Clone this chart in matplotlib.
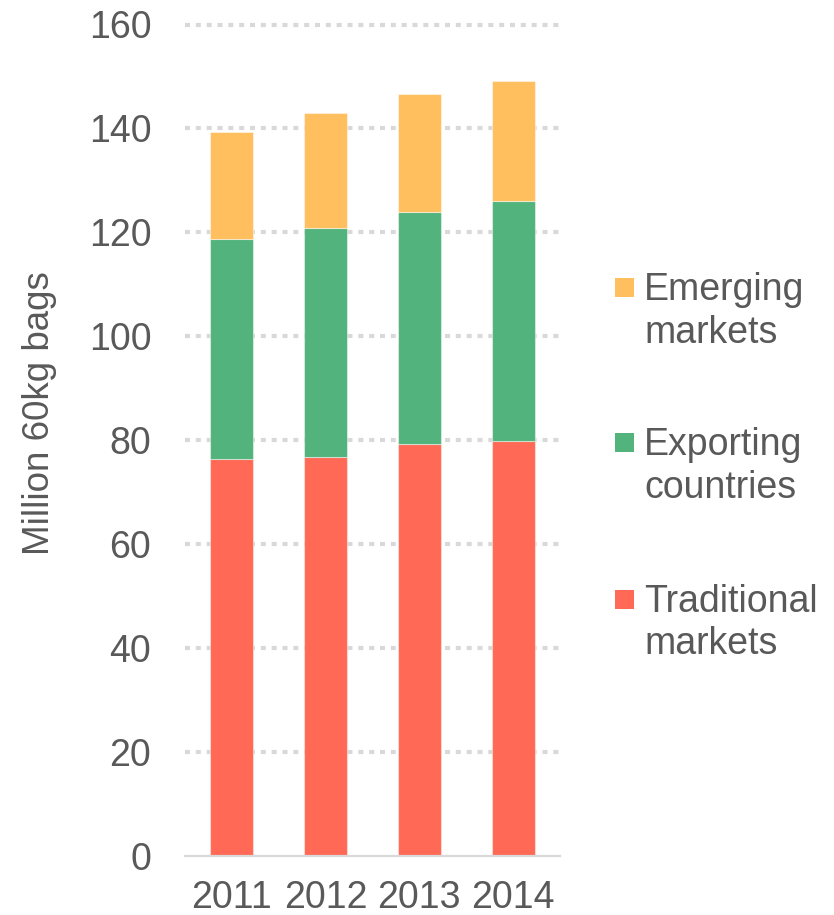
import matplotlib
matplotlib.use("Agg")
import matplotlib.pyplot as plt
from matplotlib.patches import Rectangle
import numpy as np

plt.rcParams['font.family'] = ['Liberation Sans', 'DejaVu Sans']

years = ["2011", "2012", "2013", "2014"]
traditional = [76.3, 76.7, 79.3, 79.8]
exporting = [42.4, 44.2, 44.6, 46.2]
emerging = [20.6, 22.0, 22.7, 23.1]
series_names = ["Emerging\nmarkets", "Exporting\ncountries", "Traditional\nmarkets"]
colors = {"emerging": "#FFBF5E", "exporting": "#52B47C", "traditional": "#FF6955"}
yticks = [0, 20, 40, 60, 80, 100, 120, 140, 160]

W, H = 834, 915
fig = plt.figure(figsize=(W / 100, H / 100), dpi=100)
ax = fig.add_axes([184.7 / W, 1 - 856 / H, (560 - 184.7) / W, (856 - 24.5) / H])

x = np.arange(len(years))
bw = 0.46
trad = np.array(traditional)
exp_ = np.array(exporting)
emg = np.array(emerging)
edge = dict(edgecolor=(1, 1, 1, 0.45), linewidth=0.8)
ax.bar(x, trad, bw, color=colors["traditional"], **edge, zorder=3)
ax.bar(x, exp_, bw, bottom=trad, color=colors["exporting"], **edge, zorder=3)
ax.bar(x, emg, bw, bottom=trad + exp_, color=colors["emerging"], **edge, zorder=3)

ax.set_xlim(-0.5, 3.5)
ax.set_ylim(0, 160)
ax.set_yticks(yticks)
ax.set_xticks(x)
ax.set_xticklabels(years)

for v in yticks[1:]:
    ax.axhline(v, color="#D9D9D9", linewidth=3, linestyle=(0, (1.2, 1.4)),
               dash_capstyle="butt", zorder=1, clip_on=False)

for s in ["top", "right", "left"]:
    ax.spines[s].set_visible(False)
ax.spines["bottom"].set_color("#D9D9D9")
ax.spines["bottom"].set_linewidth(1.6)
ax.spines["bottom"].set_zorder(4)

ax.tick_params(axis="y", length=0, pad=24, labelsize=27, labelcolor="#595959")
ax.tick_params(axis="x", length=0, pad=17, labelsize=27, labelcolor="#595959")

ax.set_ylabel("Million 60kg bags", fontsize=26.5, color="#595959")
ax.yaxis.set_label_coords((40 - 184.7) / (560 - 184.7), 1 - (413 - 24.5) / (856 - 24.5))
ax.yaxis.label.set_verticalalignment("center")

# legend (drawn manually to match layout)
leg_colors = [colors["emerging"], colors["exporting"], colors["traditional"]]
sq_centers = [287.5, 442.5, 599.0]
for name, col, cy in zip(series_names, leg_colors, sq_centers):
    fig.add_artist(Rectangle((615 / W, 1 - (cy + 9.5) / H), 19 / W, 19 / H,
                             transform=fig.transFigure, facecolor=col, edgecolor="none"))
    for i, line in enumerate(name.split("\n")):
        base = cy + 12.5 + i * 43
        fig.text(644 / W, 1 - base / H, line, fontsize=27, color="#595959",
                 ha="left", va="baseline")

fig.savefig("out.png", dpi=100)
